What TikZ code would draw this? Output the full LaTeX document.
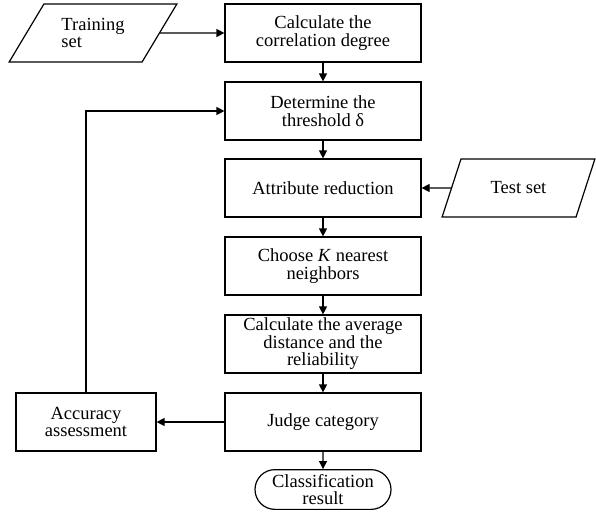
\documentclass[tikz,border=0pt]{standalone}
\usepackage{fontspec}
\setmainfont{Liberation Serif}
\usetikzlibrary{arrows.meta,shapes.geometric,shapes.misc}

\begin{document}
\begin{tikzpicture}[
    x=1pt, y=-1pt,
    line width=1.2pt,
    every node/.style={font=\fontsize{18.5}{17.5}\selectfont},
    procbox/.style={draw, rectangle, align=center, minimum width=196pt, minimum height=58pt, inner sep=2pt},
    databox/.style={draw, trapezium, trapezium stretches=true, minimum height=58pt, inner sep=2pt},
    endbox/.style={draw, rounded rectangle, align=center, minimum width=140pt, minimum height=39pt, inner xsep=2pt, inner ysep=4.5pt},
    flow/.style={-{Triangle[length=8pt, width=8pt]}}
]

    \useasboundingbox (0,0) rectangle (596,512);

    % --------------------------------------------------------
    % 1. MAIN PROCESS STEPS
    % --------------------------------------------------------

    \node (calc) [procbox] at (323, 33) {Calculate the\\correlation degree};
    \node (thresh) [procbox] at (323, 111) {Determine the\\threshold δ};
    \node (reduce) [procbox] at (323, 188) {Attribute reduction};
    \node (knn) [procbox] at (323, 266) {Choose \textit{K} nearest\\neighbors};
    \node (avgdist) [procbox] at (323, 344) {Calculate the average\\distance and the\\reliability};
    \node (judge) [procbox] at (323, 422) {Judge category};
    \node (result) [endbox] at (323, 489.5) {Classification\\result};

    % --------------------------------------------------------
    % 2. DATA INPUTS AND EVALUATION
    % --------------------------------------------------------

    % Training set (leans right)
    \node (train) [databox, align=left, minimum width=168pt,
        trapezium left angle=55, trapezium right angle=125] at (93, 33) {Training\\set};

    % Test set
    \node (test) [databox, align=center, minimum width=153pt,
        trapezium left angle=59, trapezium right angle=121] at (518.5, 188) {Test set};

    % Accuracy assessment
    \node (acc) [procbox, minimum width=140pt] at (86, 422) {Accuracy\\assessment};

    % --------------------------------------------------------
    % 3. CONNECTIONS
    % --------------------------------------------------------

    \draw [flow] (train) -- (calc);
    \draw [flow] (calc) -- (thresh);
    \draw [flow] (thresh) -- (reduce);
    \draw [flow] (test) -- (reduce);
    \draw [flow] (reduce) -- (knn);
    \draw [flow] (knn) -- (avgdist);
    \draw [flow] (avgdist) -- (judge);
    \draw [flow] (judge) -- (result);
    \draw [flow] (judge) -- (acc);

    % Feedback loop back to the threshold
    \draw [flow] (acc.north) |- (thresh.west);

\end{tikzpicture}
\end{document}
